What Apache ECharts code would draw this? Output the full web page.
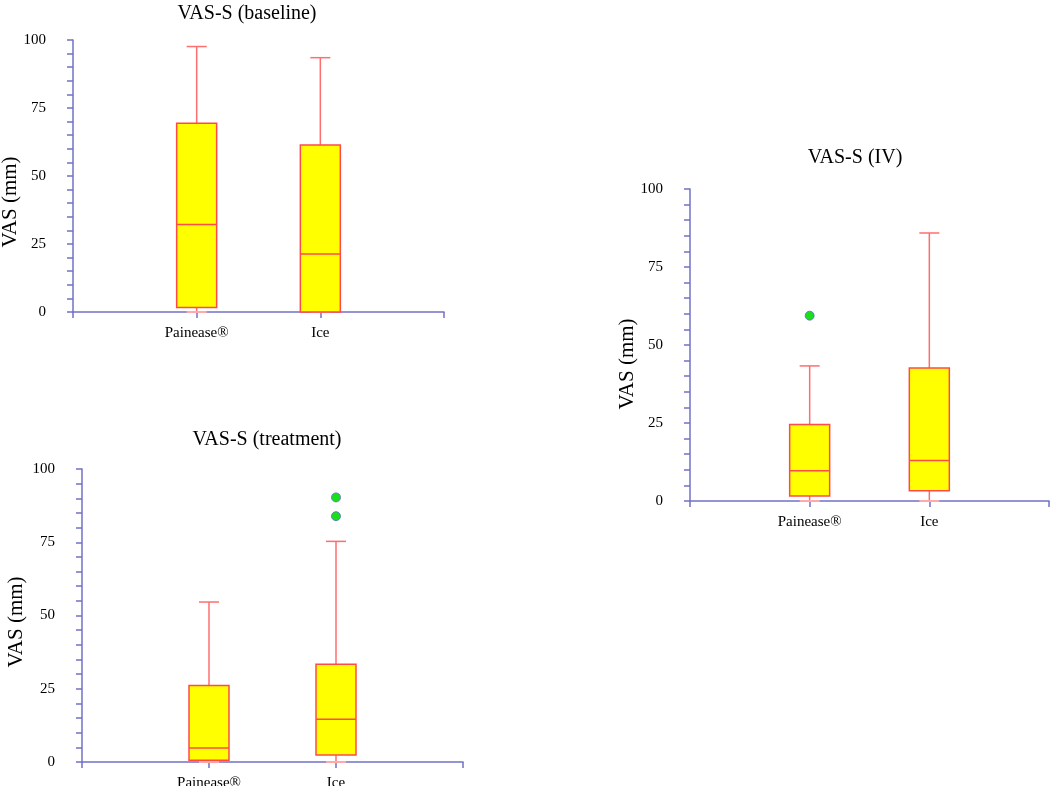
<!DOCTYPE html>
<html><head><meta charset="utf-8">
<script src="https://cdn.jsdelivr.net/npm/echarts@6/dist/echarts.min.js"></script>
<style>html,body{margin:0;padding:0;background:#fff}#c{width:1050px;height:786px}</style>
</head><body><div id="c"></div>
<script>
const categories = ['', 'Painease®', 'Ice', ''];
const titles = ['VAS-S (baseline)', 'VAS-S (IV)', 'VAS-S (treatment)'];
const yAxisLabel = 'VAS (mm)';
// [min, Q1, median, Q3, max] for Painease®, Ice
const baselineBoxes = [[0, 1.7, 32.2, 69.4, 97.6], [0, 0, 21.3, 61.4, 93.5]];
const ivBoxes = [[0, 1.6, 9.7, 24.5, 43.3], [0, 3.3, 13.0, 42.6, 85.9]];
const treatmentBoxes = [[0, 0.6, 4.8, 26.1, 54.6], [0, 2.4, 14.6, 33.4, 75.3]];
// outliers: [categoryIndex, value]
const baselineOutliers = [];
const ivOutliers = [[1, 59.4]];
const treatmentOutliers = [[2, 90.3], [2, 83.9]];

const panels = [
  {boxes: baselineBoxes, outliers: baselineOutliers, grid: {left: 73, top: 40, width: 371, height: 272}, title: [242, 9], ylab: [10, 202]},
  {boxes: ivBoxes, outliers: ivOutliers, grid: {left: 690, top: 189, width: 359, height: 312}, title: [850, 153], ylab: [627, 364]},
  {boxes: treatmentBoxes, outliers: treatmentOutliers, grid: {left: 82, top: 469, width: 381, height: 293}, title: [262, 435], ylab: [16, 622]}
];

const axisColor = '#7272c6';
const serif = '"Liberation Serif", "Times New Roman", serif';
const option = {animation: false, backgroundColor: '#fff', title: [], grid: [], xAxis: [], yAxis: [], series: [], graphic: []};

panels.forEach((p, i) => {
  option.title.push({text: titles[i], left: p.title[0], top: p.title[1], textAlign: 'center', textVerticalAlign: 'middle',
    textStyle: {fontFamily: serif, fontSize: 20, fontWeight: 'normal', color: '#000'}});
  option.graphic.push({type: 'text', x: p.ylab[0], y: p.ylab[1], rotation: Math.PI / 2,
    style: {text: yAxisLabel, font: '21px ' + serif, fill: '#000', textAlign: 'center', textVerticalAlign: 'middle'}});
  option.grid.push(Object.assign({containLabel: false, outerBoundsMode: 'none'}, p.grid));
  option.xAxis.push({type: 'category', gridIndex: i, data: categories, boundaryGap: false,
    axisLine: {lineStyle: {color: axisColor, width: 1.5}},
    axisTick: {show: true, length: 6, inside: false, lineStyle: {color: axisColor, width: 1.5}},
    axisLabel: {interval: 0, margin: 14, color: '#000', fontFamily: serif, fontSize: 15},
    splitLine: {show: false}});
  option.yAxis.push({type: 'value', gridIndex: i, min: 0, max: 100, interval: 25,
    axisLine: {show: true, lineStyle: {color: axisColor, width: 1.5}},
    axisTick: {show: true, length: 6, lineStyle: {color: axisColor, width: 1.5}},
    minorTick: {show: true, splitNumber: 5, length: 6, lineStyle: {color: axisColor, width: 1.5}},
    axisLabel: {margin: 27, color: '#000', fontFamily: serif, fontSize: 15},
    splitLine: {show: false}});
  option.series.push({type: 'custom', xAxisIndex: i, yAxisIndex: i,
    data: p.boxes.map((b, k) => [k + 1].concat(b)),
    renderItem: function (params, api) {
      const x = api.value(0);
      const pMin = api.coord([x, api.value(1)]);
      const pQ1 = api.coord([x, api.value(2)]);
      const pMed = api.coord([x, api.value(3)]);
      const pQ3 = api.coord([x, api.value(4)]);
      const pMax = api.coord([x, api.value(5)]);
      const cx = pMin[0];
      const hw = 20, cw = 10;
      const wl = {stroke: '#ff6e6e', lineWidth: 1.5};
      return {type: 'group', children: [
        {type: 'line', shape: {x1: cx, y1: pQ3[1], x2: cx, y2: pMax[1]}, style: wl},
        {type: 'line', shape: {x1: cx, y1: pMin[1], x2: cx, y2: pQ1[1]}, style: wl},
        {type: 'line', shape: {x1: cx - cw, y1: pMax[1], x2: cx + cw, y2: pMax[1]}, style: wl},
        {type: 'line', shape: {x1: cx - cw, y1: pMin[1], x2: cx + cw, y2: pMin[1]}, style: {stroke: '#ffaaaa', lineWidth: 2}},
        {type: 'rect', shape: {x: cx - hw, y: pQ3[1], width: 2 * hw, height: pQ1[1] - pQ3[1]},
          style: {fill: '#ffff00', stroke: '#ff4a4a', lineWidth: 1.5}},
        {type: 'line', shape: {x1: cx - hw, y1: pMed[1], x2: cx + hw, y2: pMed[1]}, style: {stroke: '#ff4a4a', lineWidth: 1.5}}
      ]};
    }, z: 1});
  option.series.push({type: 'scatter', xAxisIndex: i, yAxisIndex: i, data: p.outliers,
    symbol: 'circle', symbolSize: 9, itemStyle: {color: '#19e019', opacity: 1, borderColor: '#5a6ac8', borderWidth: 0.8}, z: 3});
});

const chart = echarts.init(document.getElementById('c'));
chart.setOption(option);
</script></body></html>
